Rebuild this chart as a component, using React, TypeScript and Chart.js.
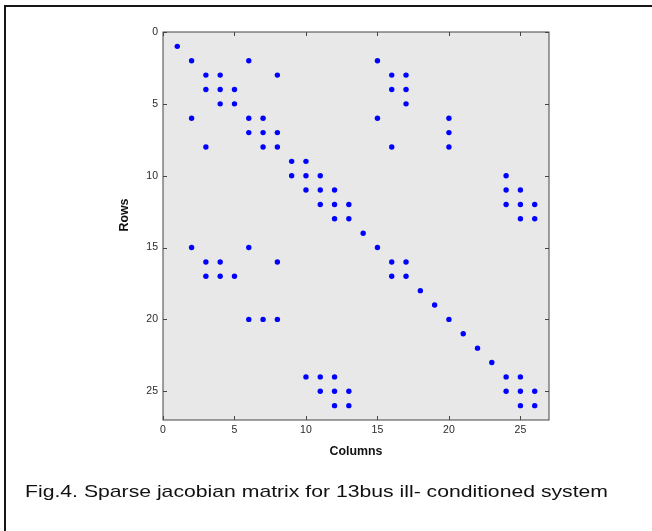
import React, { useEffect, useRef } from "react";
import { Chart, registerables } from "chart.js";

Chart.register(...registerables);

// Sparse Jacobian pattern: for each row (1..26) the columns holding a non-zero
const rowNumbers: number[] = [1, 2, 3, 4, 5, 6, 7, 8, 9, 10, 11, 12, 13, 14, 15, 16, 17, 18, 19, 20, 21, 22, 23, 24, 25, 26];
const nonzeroColumnsByRow: number[][] = [
  [1],
  [2, 6, 15],
  [3, 4, 8, 16, 17],
  [3, 4, 5, 16, 17],
  [4, 5, 17],
  [2, 6, 7, 15, 20],
  [6, 7, 8, 20],
  [3, 7, 8, 16, 20],
  [9, 10],
  [9, 10, 11, 24],
  [10, 11, 12, 24, 25],
  [11, 12, 13, 24, 25, 26],
  [12, 13, 25, 26],
  [14],
  [2, 6, 15],
  [3, 4, 8, 16, 17],
  [3, 4, 5, 16, 17],
  [18],
  [19],
  [6, 7, 8, 20],
  [21],
  [22],
  [23],
  [10, 11, 12, 24, 25],
  [11, 12, 13, 24, 25, 26],
  [12, 13, 25, 26],
];

const xTickValues: number[] = [0, 5, 10, 15, 20, 25];
const yTickValues: number[] = [0, 5, 10, 15, 20, 25];
const axisMin = 0;
const axisMax = 27;

const xAxisTitle = "Columns";
const yAxisTitle = "Rows";
const caption = "Fig.4. Sparse jacobian matrix for 13bus ill- conditioned system";

const W = 652;
const H = 531;

export default function App() {
  const canvasRef = useRef<HTMLCanvasElement | null>(null);

  useEffect(() => {
    const canvas = canvasRef.current;
    if (!canvas) return;

    const points: { x: number; y: number }[] = [];
    rowNumbers.forEach((r, i) => {
      nonzeroColumnsByRow[i].forEach((c) => points.push({ x: c, y: r }));
    });

    const decorPlugin = {
      id: "decor",
      beforeDraw(chart: any) {
        const ctx = chart.ctx as CanvasRenderingContext2D;
        const a = chart.chartArea;
        ctx.save();
        ctx.fillStyle = "#ffffff";
        ctx.fillRect(0, 0, W, H);
        ctx.fillStyle = "#e8e8e8";
        ctx.fillRect(a.left, a.top, a.right - a.left, a.bottom - a.top);
        ctx.restore();
      },
      afterDraw(chart: any) {
        const ctx = chart.ctx as CanvasRenderingContext2D;
        const a = chart.chartArea;
        const xs = chart.scales.x;
        const ys = chart.scales.y;
        ctx.save();
        // frame
        ctx.strokeStyle = "#454545";
        ctx.lineWidth = 1;
        ctx.strokeRect(a.left, a.top, a.right - a.left, a.bottom - a.top);
        // inside ticks on all four sides
        const tl = 4;
        ctx.beginPath();
        xTickValues.forEach((v) => {
          const px = Math.round(xs.getPixelForValue(v)) + 0.5;
          ctx.moveTo(px, a.bottom);
          ctx.lineTo(px, a.bottom - tl);
          ctx.moveTo(px, a.top);
          ctx.lineTo(px, a.top + tl);
        });
        yTickValues.forEach((v) => {
          const py = Math.round(ys.getPixelForValue(v)) + 0.5;
          ctx.moveTo(a.left, py);
          ctx.lineTo(a.left + tl, py);
          ctx.moveTo(a.right, py);
          ctx.lineTo(a.right - tl, py);
        });
        ctx.stroke();

        // axis titles
        ctx.fillStyle = "#111111";
        ctx.font = "bold 13px 'Liberation Sans', Arial, sans-serif";
        ctx.textAlign = "center";
        ctx.textBaseline = "alphabetic";
        const cw = ctx.measureText(xAxisTitle).width;
        ctx.save();
        ctx.translate((a.left + a.right) / 2, 455);
        ctx.scale(53 / cw, 1.05);
        ctx.fillText(xAxisTitle, 0, 0);
        ctx.restore();

        const rw = ctx.measureText(yAxisTitle).width;
        ctx.save();
        ctx.translate(128, 215);
        ctx.rotate(-Math.PI / 2);
        ctx.scale(33 / rw, 1.05);
        ctx.fillText(yAxisTitle, 0, 0);
        ctx.restore();

        // caption
        ctx.font = "17px 'Liberation Sans', Arial, sans-serif";
        ctx.textAlign = "left";
        const capW = ctx.measureText(caption).width;
        ctx.save();
        ctx.translate(25, 497);
        ctx.scale(583 / capW, 1);
        ctx.fillText(caption, 0, 0);
        ctx.restore();

        // outer figure border (top and left visible)
        ctx.fillStyle = "#161616";
        ctx.fillRect(4, 5, W - 4, 2);
        ctx.fillRect(4, 5, 2, H - 5);
        ctx.restore();
      },
    };

    const tickFont = { family: "'Liberation Sans', Arial, sans-serif", size: 10.5 };

    const chart = new Chart(canvas, {
      type: "scatter",
      data: {
        datasets: [
          {
            data: points,
            backgroundColor: "#0000ff",
            borderColor: "#0000ff",
            borderWidth: 0,
            pointRadius: 2.7,
            pointStyle: "circle",
          },
        ],
      },
      options: {
        responsive: false,
        animation: false,
        devicePixelRatio: 1,
        layout: { padding: { top: 32, right: 103, left: 0, bottom: 0 } },
        plugins: {
          legend: { display: false },
          tooltip: { enabled: false },
        },
        scales: {
          x: {
            type: "linear",
            position: "bottom",
            min: axisMin,
            max: axisMax,
            grid: { display: false, drawTicks: false },
            border: { display: false },
            ticks: { font: tickFont, color: "#2a2a2a", padding: 4, autoSkip: false, maxRotation: 0 },
            afterBuildTicks: (s: any) => {
              s.ticks = xTickValues.map((v) => ({ value: v }));
            },
            afterFit: (s: any) => {
              s.height = 111;
            },
          },
          y: {
            type: "linear",
            position: "left",
            reverse: true,
            min: axisMin,
            max: axisMax,
            grid: { display: false, drawTicks: false },
            border: { display: false },
            ticks: { font: tickFont, color: "#2a2a2a", padding: 5, autoSkip: false },
            afterBuildTicks: (s: any) => {
              s.ticks = yTickValues.map((v) => ({ value: v }));
            },
            afterFit: (s: any) => {
              s.width = 163;
            },
          },
        },
      },
      plugins: [decorPlugin],
    } as any);

    return () => {
      chart.destroy();
    };
  }, []);

  return (
    <div style={{ position: "fixed", left: 0, top: 0, width: W, height: H, background: "#ffffff" }}>
      <canvas ref={canvasRef} width={W} height={H} style={{ display: "block", width: W, height: H }} />
    </div>
  );
}
